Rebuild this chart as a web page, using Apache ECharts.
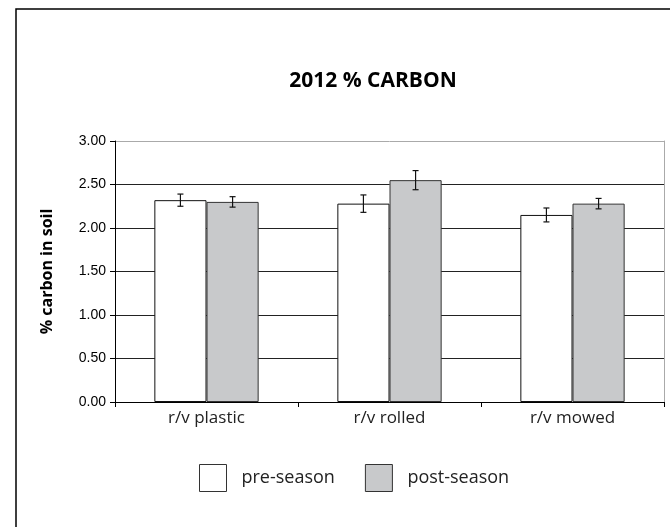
<!DOCTYPE html>
<html><head><meta charset="utf-8">
<script src="https://cdn.jsdelivr.net/npm/echarts@6/dist/echarts.min.js"></script>
<style>html,body{margin:0;padding:0;background:#fff}#c{width:670px;height:527px}</style>
</head><body><div id="c"></div>
<script>
const categories = ['r/v plastic', 'r/v rolled', 'r/v mowed'];
const preSeason = [2.32, 2.28, 2.15];
const postSeason = [2.30, 2.55, 2.28];
const preErr = [0.07, 0.10, 0.08];
const postErr = [0.06, 0.11, 0.06];
const yTicks = [0, 0.5, 1, 1.5, 2, 2.5, 3];

const chart = echarts.init(document.getElementById('c'));
const GAP = 43; // barCategoryGap percent
function errData(vals, errs) {
  return vals.map((v, i) => [i, v - errs[i], v + errs[i]]);
}
function errRender(side) {
  return function (params, api) {
    const band = api.size([1, 0])[0];
    const off = side * band * (1 - GAP / 100) / 4;
    const lo = api.coord([api.value(0), api.value(1)]);
    const hi = api.coord([api.value(0), api.value(2)]);
    const x = lo[0] + off;
    const cap = 3;
    const st = { stroke: '#111', lineWidth: 1.2 };
    return { type: 'group', children: [
      { type: 'line', shape: { x1: x, y1: lo[1], x2: x, y2: hi[1] }, style: st },
      { type: 'line', shape: { x1: x - cap, y1: lo[1], x2: x + cap, y2: lo[1] }, style: st },
      { type: 'line', shape: { x1: x - cap, y1: hi[1], x2: x + cap, y2: hi[1] }, style: st }
    ]};
  };
}
chart.setOption({
  animation: false,
  backgroundColor: '#fff',
  graphic: [{ type: 'rect', shape: { x: 16, y: 9, width: 700, height: 600 }, style: { fill: 'none', stroke: '#000', lineWidth: 1.5 }, z: -1 }],
  title: { text: '2012 % CARBON', left: 368, top: 66, textAlign: 'center',
    textStyle: { fontFamily: 'Open Sans', fontWeight: 'bold', fontSize: 21, color: '#000' } },
  legend: { data: ['pre-season', 'post-season'], left: 194, top: 459, itemWidth: 27, itemHeight: 27, itemGap: 30,
    icon: 'rect',
    itemStyle: { borderColor: '#333', borderWidth: 1 },
    textStyle: { fontFamily: 'Open Sans', fontSize: 18, color: '#222', padding: [0, 0, 0, 10] } },
  grid: { left: 115, top: 141, right: 6, bottom: 125 },
  xAxis: { type: 'category', data: categories,
    axisLine: { lineStyle: { color: '#000', width: 1 } },
    axisTick: { show: true, length: 5, lineStyle: { color: '#000' } },
    axisLabel: { fontFamily: 'Open Sans', fontSize: 17, color: '#222', margin: 8 } },
  yAxis: [{ type: 'value', min: 0, max: 3, interval: 0.5,
    name: '% carbon in soil', nameLocation: 'middle', nameGap: 60,
    nameTextStyle: { fontFamily: 'Open Sans', fontWeight: 'bold', fontSize: 16, color: '#000' },
    axisLine: { show: true, lineStyle: { color: '#000' } },
    axisTick: { show: true, length: 5, lineStyle: { color: '#000' } },
    axisLabel: { fontFamily: 'Liberation Sans', fontSize: 14, color: '#000', margin: 9,
      formatter: v => v.toFixed(2) },
    splitLine: { show: true, lineStyle: { color: ['#000', '#222', '#222', '#222', '#222', '#222', '#aaa'], width: 1 } }
  }, { type: 'value', min: 0, max: 3, interval: 0.5, position: 'right',
    axisLine: { show: true, lineStyle: { color: '#aaa' } },
    axisTick: { show: false }, axisLabel: { show: false }, splitLine: { show: false } }],
  series: [
    { name: 'pre-season', type: 'bar', data: preSeason, barGap: '0%', barCategoryGap: GAP + '%',
      itemStyle: { color: '#fff', borderColor: '#111', borderWidth: 1 } },
    { name: 'post-season', type: 'bar', data: postSeason, barGap: '0%', barCategoryGap: GAP + '%',
      itemStyle: { color: '#c8c9cb', borderColor: '#333', borderWidth: 1 } },
    { name: 'pre-err', type: 'custom', data: errData(preSeason, preErr), renderItem: errRender(-1),
      encode: { x: 0, y: [1, 2] }, z: 5 },
    { name: 'post-err', type: 'custom', data: errData(postSeason, postErr), renderItem: errRender(1),
      encode: { x: 0, y: [1, 2] }, z: 5 }
  ]
});
</script></body></html>
